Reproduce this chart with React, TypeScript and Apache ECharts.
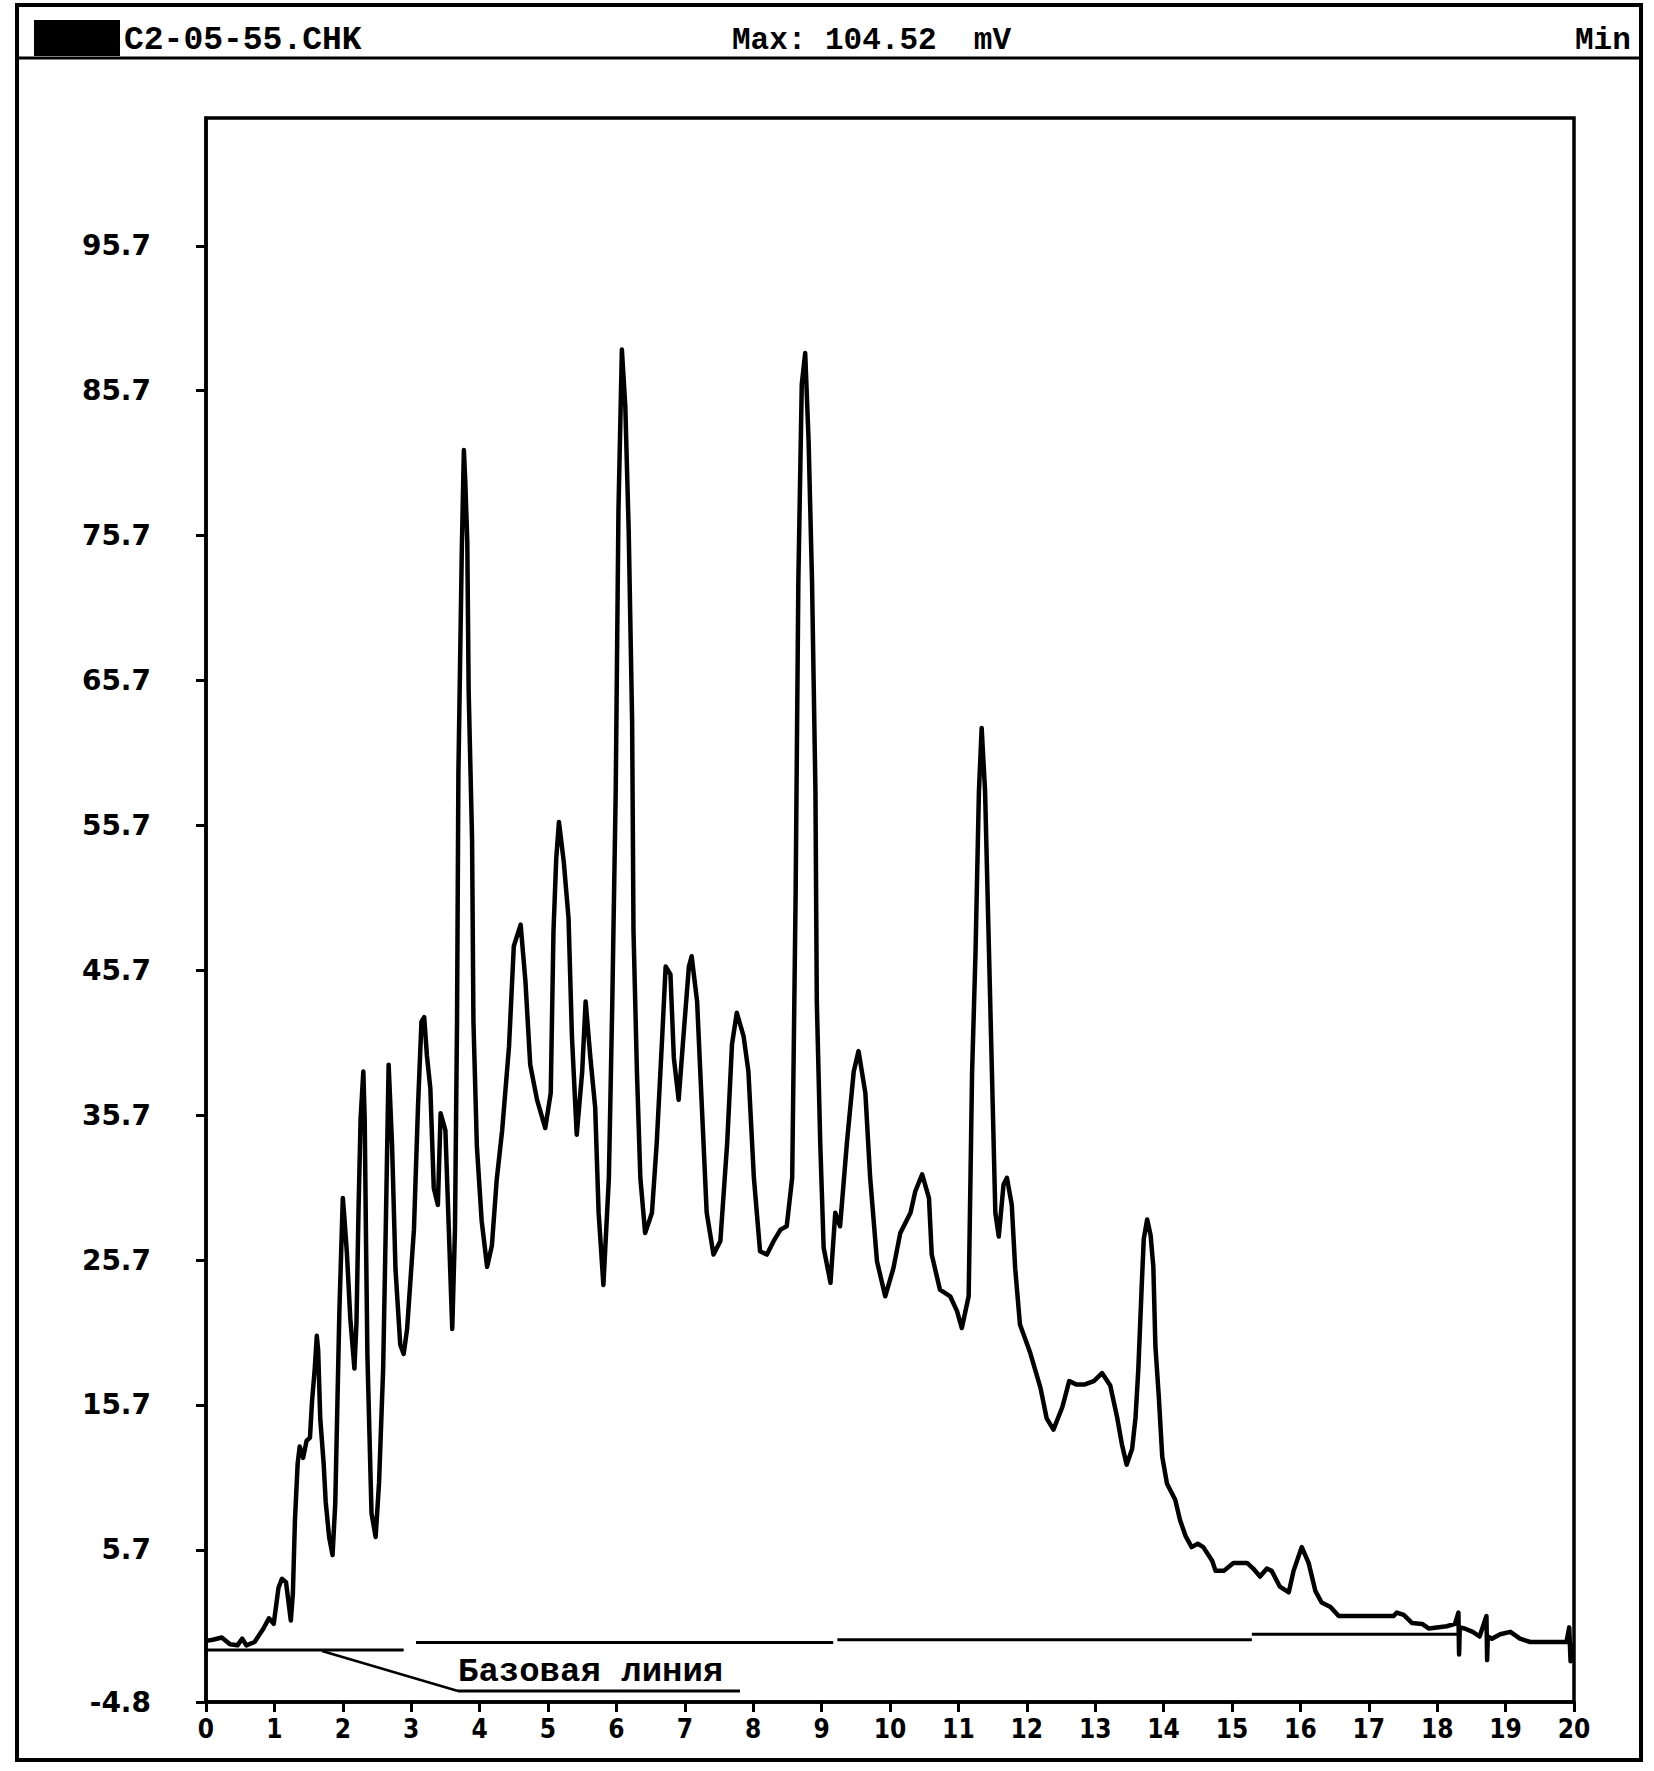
import React, { useEffect, useRef } from "react";
import * as echarts from "echarts";

// Retention time (min) of each traced point of the chromatogram
const retentionTimeMin = [
  0.0, 0.1, 0.23, 0.35, 0.46, 0.53, 0.59, 0.71, 0.84, 0.92,
  0.99, 1.06, 1.11, 1.17, 1.24, 1.27, 1.3, 1.34, 1.37, 1.42,
  1.47, 1.52, 1.55, 1.59, 1.62, 1.64, 1.67, 1.72, 1.75, 1.8,
  1.85, 1.89, 1.92, 1.95, 2.0, 2.02, 2.06, 2.11, 2.17, 2.2,
  2.23, 2.26, 2.3, 2.32, 2.34, 2.36, 2.42, 2.48, 2.53, 2.59,
  2.63, 2.67, 2.72, 2.77, 2.84, 2.89, 2.94, 3.04, 3.1, 3.15,
  3.19, 3.23, 3.28, 3.33, 3.39, 3.43, 3.5, 3.55, 3.6, 3.64,
  3.67, 3.69, 3.74, 3.77, 3.79, 3.82, 3.84, 3.89, 3.91, 3.96,
  4.03, 4.11, 4.18, 4.25, 4.33, 4.43, 4.5, 4.6, 4.67, 4.74,
  4.84, 4.96, 5.04, 5.08, 5.12, 5.16, 5.23, 5.3, 5.35, 5.42,
  5.5, 5.55, 5.62, 5.69, 5.74, 5.81, 5.89, 5.94, 5.99, 6.03,
  6.08, 6.13, 6.18, 6.23, 6.25, 6.3, 6.35, 6.42, 6.52, 6.59,
  6.67, 6.72, 6.79, 6.84, 6.91, 6.98, 7.06, 7.1, 7.18, 7.25,
  7.32, 7.42, 7.52, 7.62, 7.69, 7.76, 7.86, 7.93, 8.01, 8.1,
  8.2, 8.3, 8.4, 8.49, 8.57, 8.62, 8.66, 8.71, 8.76, 8.81,
  8.86, 8.91, 8.93, 8.98, 9.03, 9.13, 9.2, 9.27, 9.37, 9.47,
  9.54, 9.64, 9.71, 9.81, 9.93, 10.05, 10.15, 10.3, 10.37, 10.47,
  10.57, 10.61, 10.73, 10.88, 10.98, 11.05, 11.15, 11.2, 11.25, 11.3,
  11.34, 11.39, 11.44, 11.49, 11.54, 11.59, 11.66, 11.71, 11.78, 11.83,
  11.9, 12.05, 12.2, 12.29, 12.39, 12.52, 12.62, 12.72, 12.85, 12.98,
  13.1, 13.22, 13.32, 13.39, 13.46, 13.54, 13.59, 13.63, 13.68, 13.71,
  13.76, 13.81, 13.85, 13.88, 13.93, 13.98, 14.05, 14.17, 14.24, 14.32,
  14.41, 14.5, 14.58, 14.71, 14.76, 14.88, 15.02, 15.22, 15.31, 15.41,
  15.51, 15.58, 15.7, 15.83, 15.9, 16.02, 16.12, 16.22, 16.31, 16.44,
  16.56, 16.97, 17.36, 17.41, 17.51, 17.63, 17.78, 17.88, 18.14, 18.26,
  18.31, 18.32, 18.33, 18.4, 18.52, 18.62, 18.72, 18.73, 18.74, 18.8,
  18.92, 19.07, 19.21, 19.36, 19.89, 19.93, 19.95, 19.97,
];

// Detector signal (mV) at each of those times
const detectorSignalMv = [
  -0.58, -0.5, -0.35, -0.82, -0.89, -0.43, -0.89, -0.66, 0.27, 0.98,
  0.59, 3.08, 3.7, 3.47, 0.82, 2.69, 7.68, 11.66, 12.83, 12.05,
  13.22, 13.45, 15.95, 18.21, 20.47, 19.46, 14.78, 11.66, 9.01, 6.59,
  5.34, 8.93, 15.56, 22.18, 29.98, 28.81, 26.17, 21.64, 18.21, 21.41,
  29.2, 35.44, 38.71, 35.44, 26.86, 19.07, 8.22, 6.59, 10.34, 18.21,
  28.42, 39.18, 33.68, 25.1, 19.85, 19.22, 20.94, 27.8, 36.38, 42.15,
  42.46, 39.8, 37.54, 30.68, 29.51, 35.83, 34.66, 27.8, 20.94, 27.8,
  42.15, 59.3, 74.74, 81.6, 79.49, 75.28, 64.99, 54.7, 42.15, 33.57,
  28.42, 25.23, 26.71, 31.23, 34.66, 40.43, 47.37, 48.85, 44.95, 39.18,
  36.76, 34.81, 37.23, 48.38, 53.37, 55.94, 53.21, 49.32, 41.13, 34.35,
  38.71, 43.55, 39.65, 36.22, 28.97, 23.98, 31.38, 43.55, 58.05, 77.39,
  88.54, 84.64, 75.98, 62.88, 48.38, 38.71, 31.38, 27.56, 28.97, 33.8,
  41.13, 45.96, 45.42, 39.65, 36.76, 41.13, 45.96, 46.67, 43.55, 36.22,
  28.97, 26.08, 27.02, 33.8, 40.59, 42.77, 41.13, 38.71, 31.38, 26.31,
  26.08, 27.02, 27.8, 28.03, 31.38, 50.8, 72.55, 86.12, 88.3, 82.22,
  72.55, 58.05, 43.55, 33.8, 26.55, 24.13, 28.97, 28.03, 33.8, 38.71,
  40.12, 37.23, 31.38, 25.61, 23.2, 25.14, 27.56, 28.97, 30.45, 31.62,
  29.98, 26.08, 23.66, 23.2, 22.18, 21.01, 23.2, 38.63, 46.9, 58.05,
  62.42, 58.05, 48.38, 38.71, 28.97, 27.33, 30.92, 31.38, 29.51, 25.14,
  21.25, 19.3, 16.88, 14.78, 14.0, 15.56, 17.35, 17.12, 17.12, 17.35,
  17.9, 17.04, 14.86, 12.99, 11.58, 12.67, 14.86, 18.13, 23.9, 27.17,
  28.5, 27.41, 25.23, 19.77, 16.26, 12.13, 10.26, 9.16, 7.76, 6.67,
  5.89, 6.12, 5.89, 4.95, 4.25, 4.25, 4.8, 4.8, 4.41, 3.86,
  4.41, 4.25, 3.16, 2.77, 4.25, 5.89, 4.8, 2.85, 2.07, 1.76,
  1.13, 1.13, 1.13, 1.37, 1.21, 0.66, 0.59, 0.27, 0.43, 0.59,
  1.37, -1.52, 0.35, 0.27, 0.04, -0.28, 1.13, -1.91, -0.28, -0.43,
  -0.12, 0.04, -0.43, -0.66, -0.66, 0.35, -1.99, -0.74,
];

// Baseline ("Базовая линия") drawn as level segments
const baselineStartMin = [0, 3.07, 9.23, 15.29];
const baselineEndMin = [2.89, 9.17, 15.29, 18.3];
const baselineLevelMv = [-1.21, -0.7, -0.51, -0.12];

// Axis ticks
const yTickValues = [-4.8, 5.7, 15.7, 25.7, 35.7, 45.7, 55.7, 65.7, 75.7, 85.7, 95.7];
const xTickLabels = [
  "0", "1", "2", "3", "4", "5", "6", "7", "8", "9", "10",
  "11", "12", "13", "14", "15", "16", "17", "18", "19", "20",
];
const yAxisMin = -4.8;
const yAxisMax = 104.52;

// Header / annotation texts
const headerFile = "C2-05-55.CHK";
const headerMax = "Max: 104.52  mV";
const headerMin = "Min";
const baselineLabel = "Базовая линия";

export default function App() {
  const ref = useRef<HTMLDivElement>(null);

  useEffect(() => {
    if (!ref.current) return;
    const chart = echarts.init(ref.current, null, { renderer: "svg" });
    const mono = '"Liberation Mono", "DejaVu Sans Mono", monospace';
    const narrow = '"Liberation Sans Narrow", "DejaVu Sans Condensed", "DejaVu Sans", sans-serif';
    const black = "#000";

    chart.setOption({
      animation: false,
      backgroundColor: "#fff",
      grid: {
        left: 206,
        top: 118,
        right: 80,
        bottom: 69,
        show: true,
        borderColor: black,
        borderWidth: 3.5,
        backgroundColor: "transparent",
      },
      xAxis: {
        type: "value",
        min: 0,
        max: 20,
        interval: 1,
        axisLine: { show: true, onZero: false, lineStyle: { color: black, width: 3.5 } },
        axisTick: { show: true, length: 10, lineStyle: { color: black, width: 3 } },
        axisLabel: {
          margin: 14,
          color: black,
          fontSize: 26,
          fontWeight: "bold",
          fontFamily: narrow,
          formatter: (v: number) => xTickLabels[Math.round(v)] ?? "",
        },
        splitLine: { show: false },
      },
      yAxis: {
        type: "value",
        min: yAxisMin,
        max: yAxisMax,
        axisLine: { show: true, onZero: false, lineStyle: { color: black, width: 3.5 } },
        axisTick: {
          show: true,
          length: 10,
          customValues: yTickValues,
          lineStyle: { color: black, width: 3 },
        },
        axisLabel: {
          customValues: yTickValues,
          formatter: (v: number) => v.toFixed(1),
          margin: 55,
          color: black,
          fontSize: 28,
          fontWeight: "bold",
          fontFamily: '"DejaVu Sans", sans-serif',
        },
        splitLine: { show: false },
      },
      series: [
        {
          type: "line",
          data: retentionTimeMin.map((t, i) => [t, detectorSignalMv[i]]),
          symbol: "none",
          showSymbol: false,
          silent: true,
          lineStyle: { color: black, width: 4.5, join: "round" },
          z: 3,
        },
        ...baselineStartMin.map((s, i) => ({
          type: "line",
          data: [
            [s, baselineLevelMv[i]],
            [baselineEndMin[i], baselineLevelMv[i]],
          ],
          symbol: "none",
          silent: true,
          lineStyle: { color: black, width: 3 },
          z: 2,
        })),
      ],
      graphic: [
        {
          type: "rect",
          shape: { x: 17, y: 5, width: 1624, height: 1755 },
          style: { fill: "none", stroke: black, lineWidth: 4 },
          silent: true,
        },
        {
          type: "line",
          shape: { x1: 17, y1: 58, x2: 1641, y2: 58 },
          style: { stroke: black, lineWidth: 3 },
          silent: true,
        },
        {
          type: "rect",
          shape: { x: 34, y: 20, width: 86, height: 36 },
          style: { fill: black },
          silent: true,
        },
        {
          type: "text",
          x: 124,
          y: 40,
          style: {
            text: headerFile,
            fill: black,
            font: `bold 33px ${mono}`,
            textAlign: "left",
            textVerticalAlign: "middle",
          },
        },
        {
          type: "text",
          x: 732,
          y: 40,
          style: {
            text: headerMax,
            fill: black,
            font: `bold 31px ${mono}`,
            textAlign: "left",
            textVerticalAlign: "middle",
          },
        },
        {
          type: "text",
          x: 1575,
          y: 40,
          style: {
            text: headerMin,
            fill: black,
            font: `bold 31px ${mono}`,
            textAlign: "left",
            textVerticalAlign: "middle",
          },
        },
        {
          type: "line",
          shape: { x1: 322, y1: 1651, x2: 458, y2: 1691 },
          style: { stroke: black, lineWidth: 2.5 },
          silent: true,
        },
        {
          type: "line",
          shape: { x1: 458, y1: 1691, x2: 740, y2: 1691 },
          style: { stroke: black, lineWidth: 3 },
          silent: true,
        },
        {
          type: "text",
          x: 458,
          y: 1672,
          style: {
            text: baselineLabel,
            fill: black,
            font: `bold 34px ${mono}`,
            textAlign: "left",
            textVerticalAlign: "middle",
          },
        },
      ],
    });

    return () => chart.dispose();
  }, []);

  return (
    <div
      ref={ref}
      style={{ position: "absolute", left: 0, top: 0, width: 1654, height: 1771, background: "#fff" }}
    />
  );
}
